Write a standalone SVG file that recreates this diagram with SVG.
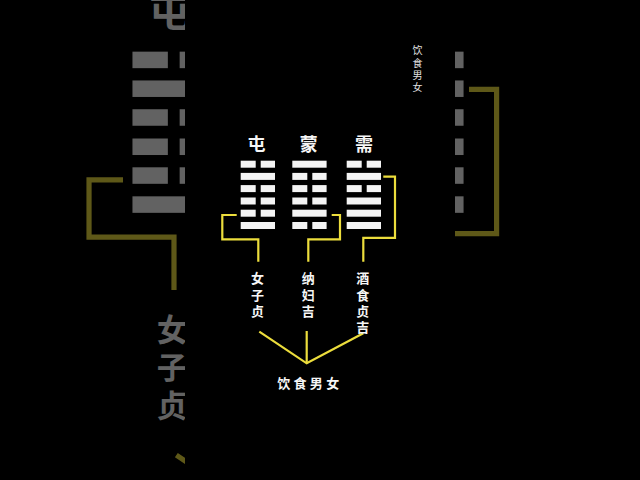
<svg xmlns="http://www.w3.org/2000/svg" xmlns:xlink="http://www.w3.org/1999/xlink" width="640" height="480" viewBox="0 0 640 480">
  <style>
    .bar { fill: #f4f4f4; }
    .ink { fill: #f6f6f6; font-family: "Noto Sans CJK SC", "Noto Sans", sans-serif; font-weight: 700; text-anchor: middle; dominant-baseline: central; }
    .title { font-size: 18px; }
    .lbl { font-size: 13px; }
    .small { fill: #e2e2e2; font-family: "Liberation Sans", "Noto Sans CJK SC", sans-serif; font-size: 10px; text-anchor: middle; dominant-baseline: central; }
    .conn { fill: none; stroke: #ecdd3c; stroke-width: 2.2; stroke-linejoin: miter; stroke-linecap: butt; }
  </style>
  <defs>
    <g id="diagram">
      <g id="hex-zhun">
        <text class="ink title" x="256.5" y="142.5">屯</text>
        <rect class="bar" x="240.7" y="160.7" width="15" height="7"/><rect class="bar" x="260.7" y="160.7" width="14.3" height="7"/>
        <rect class="bar" x="240.7" y="172.9" width="34.3" height="7"/>
        <rect class="bar" x="240.7" y="185.1" width="15" height="7"/><rect class="bar" x="260.7" y="185.1" width="14.3" height="7"/>
        <rect class="bar" x="240.7" y="197.5" width="15" height="7"/><rect class="bar" x="260.7" y="197.5" width="14.3" height="7"/>
        <rect class="bar" x="240.7" y="209.7" width="15" height="7"/><rect class="bar" x="260.7" y="209.7" width="14.3" height="7"/>
        <rect class="bar" x="240.7" y="222" width="34.3" height="7"/>
      </g>
      <g id="hex-meng">
        <text class="ink title" x="308.7" y="142.5">蒙</text>
        <rect class="bar" x="292.3" y="160.7" width="34.3" height="7"/>
        <rect class="bar" x="292.3" y="172.9" width="15" height="7"/><rect class="bar" x="312.3" y="172.9" width="14.3" height="7"/>
        <rect class="bar" x="292.3" y="185.1" width="15" height="7"/><rect class="bar" x="312.3" y="185.1" width="14.3" height="7"/>
        <rect class="bar" x="292.3" y="197.5" width="15" height="7"/><rect class="bar" x="312.3" y="197.5" width="14.3" height="7"/>
        <rect class="bar" x="292.3" y="209.7" width="34.3" height="7"/>
        <rect class="bar" x="292.3" y="222" width="15" height="7"/><rect class="bar" x="312.3" y="222" width="14.3" height="7"/>
      </g>
      <g id="hex-xu">
        <text class="ink title" x="364" y="142.5">需</text>
        <rect class="bar" x="346.7" y="160.7" width="15" height="7"/><rect class="bar" x="366.7" y="160.7" width="14.3" height="7"/>
        <rect class="bar" x="346.7" y="172.9" width="34.3" height="7"/>
        <rect class="bar" x="346.7" y="185.1" width="15" height="7"/><rect class="bar" x="366.7" y="185.1" width="14.3" height="7"/>
        <rect class="bar" x="346.7" y="197.5" width="34.3" height="7"/>
        <rect class="bar" x="346.7" y="209.7" width="34.3" height="7"/>
        <rect class="bar" x="346.7" y="222" width="34.3" height="7"/>
      </g>
      <g id="connectors">
        <path class="conn" d="M236.7,215 H222.3 V239.3 H258.3 V261.7"/>
        <path class="conn" d="M331.7,215 H340 V239.3 H308.3 V261.7"/>
        <path class="conn" d="M383.3,176.7 H395 V237.8 H363.3 V261.7"/>
        <path class="conn" d="M259.3,331.7 L306.7,363.3 L363.3,333.3"/>
        <path class="conn" d="M306.7,331 V363.3"/>
      </g>
      <g id="label-nvzizhen">
        <text class="ink lbl"><tspan x="257.5" y="277.3">女</tspan><tspan x="257.5" y="293.5">子</tspan><tspan x="257.5" y="309.5">贞</tspan></text>
      </g>
      <g id="label-nafuji">
        <text class="ink lbl"><tspan x="308.3" y="277.3">纳</tspan><tspan x="308.3" y="293.5">妇</tspan><tspan x="308.3" y="309.5">吉</tspan></text>
      </g>
      <g id="label-jiushi">
        <text class="ink lbl"><tspan x="362.7" y="277.3">酒</tspan><tspan x="362.7" y="293.5">食</tspan><tspan x="362.7" y="309.5">贞</tspan><tspan x="362.7" y="325.6">吉</tspan></text>
      </g>
      <g id="label-yinshi">
        <text class="ink lbl" y="382"><tspan x="283.7">饮</tspan><tspan x="300">食</tspan><tspan x="316.3">男</tspan><tspan x="332.8">女</tspan></text>
      </g>
    </g>
  </defs>
  <rect x="0" y="0" width="640" height="480" fill="#000"/>
  <g id="background-zoom" opacity="0.4">
    <use xlink:href="#diagram" href="#diagram" transform="matrix(2.36,0,0,2.36,-435.6,-327.6)"/>
  </g>
  <rect id="panel" x="185" y="0" width="270" height="480" fill="#000"/>
  <use xlink:href="#diagram" href="#diagram"/>
  <g id="corner-label">
    <text class="small"><tspan x="417.5" y="50.3">饮</tspan><tspan x="417.5" y="62.6">食</tspan><tspan x="417.5" y="74.8">男</tspan><tspan x="417.5" y="87">女</tspan></text>
  </g>
</svg>
